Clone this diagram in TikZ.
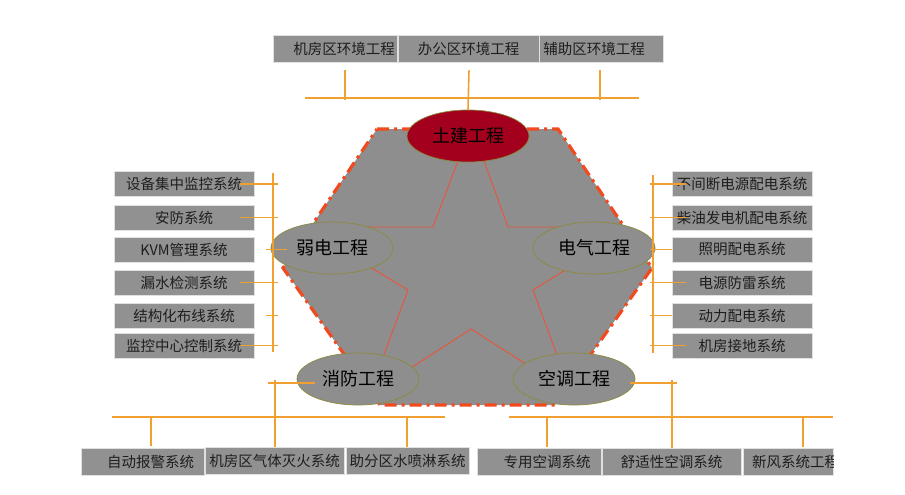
\documentclass[tikz,border=0pt]{standalone}
\usepackage{fontspec}
\setmainfont{Noto Sans CJK SC}
\usetikzlibrary{shapes.geometric,calc}
\definecolor{boxgray}{HTML}{919191}
\definecolor{hexgray}{HTML}{8E8E8E}
\definecolor{busor}{HTML}{F0A030}
\definecolor{hexred}{HTML}{F04A1E}
\definecolor{starred}{HTML}{E8553A}
\definecolor{ellline}{HTML}{8C8A3C}
\definecolor{tjred}{HTML}{A2001C}
\definecolor{txt}{HTML}{1E1E1E}
\begin{document}
\begin{tikzpicture}[x=1pt,y=-1pt,
 box/.style={rectangle, fill=boxgray, draw=white!88!black, line width=0.6pt, inner sep=0pt, text=txt, font=\fontsize{14.5}{16}\selectfont},
 tbox/.style={box, minimum height=27pt},
 sbox/.style={box, minimum width=140pt, minimum height=25pt},
 ell/.style={ellipse, fill=hexgray, draw=ellline, line width=0.7pt, minimum width=122pt, minimum height=52pt, inner sep=0pt, text=black, font=\fontsize{18}{20}\selectfont},
 bus/.style={draw=busor, line width=1.6pt},
 starline/.style={draw=starred, line width=0.9pt},
 hexb/.style={draw=hexred, line width=3.2pt, dash pattern=on 12pt off 5pt on 3pt off 5pt, fill=hexgray}]
\useasboundingbox (0,0) rectangle (905,495);

% hexagon
\draw[hexb] (377,129) -- (558,129) -- (652,268) -- (555,405) -- (380,405) -- (283,268) -- cycle;

% star
\coordinate (s1) at (433,227);
\coordinate (s2) at (408,290);
\coordinate (s3) at (471,329);
\coordinate (s4) at (533,290);
\coordinate (s5) at (508,227);
\coordinate (h1) at (462,150);
\coordinate (h2) at (365,227);
\coordinate (h3) at (360,261);
\coordinate (h4) at (379,368);
\coordinate (h5) at (400,375);
\coordinate (h6) at (540,373);
\coordinate (h7) at (561,366);
\coordinate (h8) at (575,264);
\coordinate (h9) at (570,227);
\coordinate (h10) at (480,150);
\draw[starline] (h1) -- (s1) -- (h2);
\draw[starline] (h3) -- (s2) -- (h4);
\draw[starline] (h5) -- (s3) -- (h6);
\draw[starline] (h7) -- (s4) -- (h8);
\draw[starline] (h9) -- (s5) -- (h10);

% ellipses
\node[ell, fill=tjred] (tj) at (468,136) {土建工程};
\node[ell] (we) at (332,248) {弱电工程};
\node[ell] (ee) at (594,248) {电气工程};
\node[ell] (fe) at (358,379) {消防工程};
\node[ell] (ke) at (574,379) {空调工程};

% top boxes
\node[tbox, minimum width=124pt] (t1) at (335,48.5) {\hspace*{18pt}机房区环境工程};
\node[tbox, minimum width=141pt] (t2) at (468.5,48.5) {办公区环境工程};
\node[tbox, minimum width=124pt] (t3) at (601,48.5) {辅助区环境工程\hspace*{14pt}};

% left boxes
\node[sbox] (l1) at (184,184) {设备集中监控系统};
\node[sbox] (l2) at (184,217.5) {安防系统};
\node[sbox] (l3) at (184,249.5) {KVM管理系统};
\node[sbox] (l4) at (184,282.5) {漏水检测系统};
\node[sbox] (l5) at (184,315.5) {结构化布线系统};
\node[sbox] (l6) at (184,345.5) {监控中心控制系统};

% right boxes
\node[sbox] (r1) at (742,184) {不间断电源配电系统};
\node[sbox] (r2) at (742,217.5) {柴油发电机配电系统};
\node[sbox] (r3) at (742,249.5) {照明配电系统};
\node[sbox] (r4) at (742,282.5) {电源防雷系统};
\node[sbox] (r5) at (742,315.5) {动力配电系统};
\node[sbox] (r6) at (742,345.5) {机房接地系统};

% bottom boxes
\node[tbox, minimum width=123pt] (b1) at (142.5,462) {\hspace*{16pt}自动报警系统};
\node[tbox, minimum width=139pt] (b2) at (274.5,460.5) {机房区气体灭火系统};
\node[tbox, minimum width=123pt] (b3) at (407.5,460.5) {助分区水喷淋系统};
\node[tbox, minimum width=124pt] (b4) at (539,461.5) {\hspace*{16pt}专用空调系统};
\node[tbox, minimum width=139pt] (b5) at (671.5,461.5) {舒适性空调系统};
\node[tbox, minimum width=90pt] (b6) at (788,461.5) {};
\begin{scope}
\clip (b6.north west) rectangle (b6.south east);
\node[anchor=west, inner sep=0pt, text=txt, font=\fontsize{14.5}{16}\selectfont] (b6t) at (752,461.5) {新风系统工程};
\end{scope}

% top connectors
\coordinate (tbL) at (305,98);
\coordinate (tbR) at (639,98);
\draw[bus] (tbL) -- (tbR);
\draw[bus] ($(t1.south)+(10,8)$) -- ++(0,30);
\draw[bus] ($(t2.south)+(0.5,8)$) -- (tj.north);
\draw[bus] ($(t3.south)+(-1,8)$) -- ++(0,30);

% left connectors
\coordinate (lvT) at (273,173);
\coordinate (lvB) at (273,352);
\draw[bus] (lvT) -- (lvB);
\draw[bus] ($(l1.east)+(-14,0)$) -- ++(38,0);
\draw[bus] ($(l2.east)+(-14,0)$) -- ++(38,0);
\draw[bus] ($(l3.east)+(12,0)$) -- ++(21,0);
\draw[bus] ($(l4.east)+(-14,0)$) -- ++(38,0);
\draw[bus] ($(l5.east)+(12,0)$) -- ++(12,0);
\draw[bus] ($(l6.east)+(-14,0)$) -- ++(38,0);

% right connectors
\coordinate (rvT) at (653,175);
\coordinate (rvB) at (653,353);
\draw[bus] (rvT) -- (rvB);
\draw[bus] ($(r1.west)+(-22,0)$) -- ++(36,0);
\draw[bus] ($(r2.west)+(-22,0)$) -- ++(36,0);
\draw[bus] ($(r3.west)+(-22,0)$) -- (r3.west);
\draw[bus] ($(r4.west)+(-22,0)$) -- ++(36,0);
\draw[bus] ($(r5.west)+(-22,0)$) -- (r5.west);
\draw[bus] ($(r6.west)+(-22,0)$) -- ++(36,0);

% bottom-left connectors
\coordinate (blL) at (112,417);
\coordinate (blR) at (445,417);
\coordinate (flJ) at (275,380);
\draw[bus] (blL) -- (blR);
\draw[bus] ($(fe.west)+(-29,4)$) -- ++(47,0);
\draw[bus] (flJ) -- (flJ |- b2.north);
\draw[bus] ($(b1.north)+(8.5,-2)$) -- ++(0,-30);
\draw[bus] ($(b3.north)+(-0.5,0)$) -- ++(0,-30);

% bottom-right connectors
\coordinate (brL) at (509,417);
\coordinate (brR) at (833,417);
\coordinate (krJ) at (672,380);
\draw[bus] (brL) -- (brR);
\draw[bus] ($(ke.east)+(-5,4)$) -- ++(47,0);
\draw[bus] (krJ) -- (krJ |- b5.north);
\draw[bus] ($(b4.north)+(8,-1)$) -- ++(0,-30);
\draw[bus] ($(b6.north)+(15,-1)$) -- ++(0,-30);
\end{tikzpicture}
\end{document}
